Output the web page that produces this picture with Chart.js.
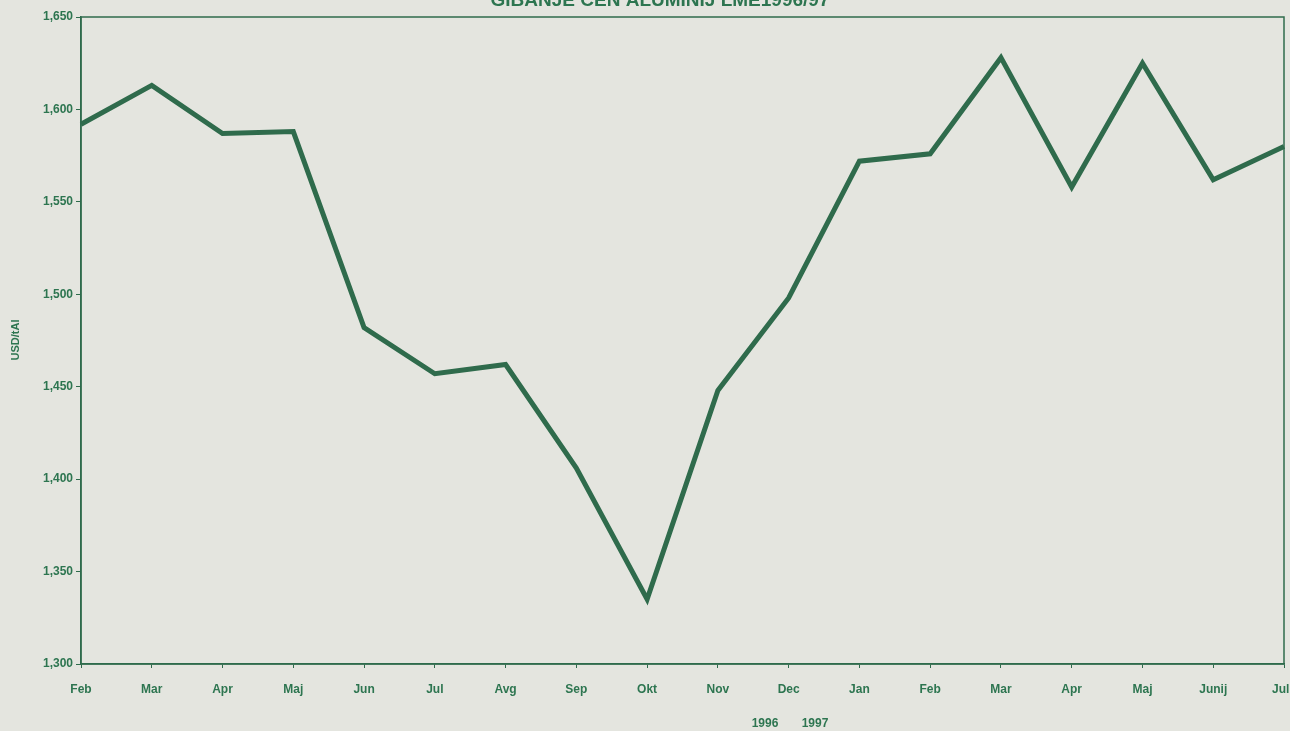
<!DOCTYPE html>
<html>
<head>
<meta charset="utf-8">
<script src="https://cdn.jsdelivr.net/npm/chart.js@4/dist/chart.umd.min.js"></script>
<style>
  html, body { margin: 0; padding: 0; background: #e4e5df; }
  #wrap { width: 1290px; height: 731px; }
</style>
</head>
<body>
<div id="wrap"><canvas id="myChart"></canvas></div>
<script>
// data block
const months = ['Feb', 'Mar', 'Apr', 'Maj', 'Jun', 'Jul', 'Avg', 'Sep', 'Okt', 'Nov', 'Dec',
                'Jan', 'Feb', 'Mar', 'Apr', 'Maj', 'Junij', 'Julij'];
const prices = [1592, 1613, 1587, 1588, 1482, 1457, 1462, 1406, 1335, 1448, 1498,
                1572, 1576, 1628, 1558, 1625, 1562, 1580];
const yearLabels = ['1996', '1997'];

const green = '#2f6b4c';
const textGreen = '#2d7550';

// extra texts: title, y label, years
const extras = {
  id: 'extras',
  afterDraw(chart) {
    const {ctx, chartArea: {left, right, top, bottom}, scales: {x}} = chart;
    ctx.save();
    // frame
    ctx.strokeStyle = green;
    ctx.lineWidth = 1.5;
    ctx.strokeRect(left, top, right - left, bottom - top);
    ctx.fillStyle = textGreen;
    ctx.font = 'bold 19px "Liberation Sans", Arial';
    ctx.textAlign = 'center';
    ctx.fillText('GIBANJE CEN ALUMINIJ LME1996/97', 660, 6);
    ctx.font = 'bold 11px "Liberation Sans", Arial';
    ctx.save();
    ctx.translate(19, 340);
    ctx.rotate(-Math.PI / 2);
    ctx.fillText('USD/tAl', 0, 0);
    ctx.restore();
    ctx.font = 'bold 12px "Liberation Sans", Arial';
    const mid = (x.getPixelForValue(10) + x.getPixelForValue(11)) / 2;
    ctx.fillText(yearLabels[0], mid - 59, 727);
    ctx.fillText(yearLabels[1], mid - 9, 727);
    ctx.restore();
  }
};

const config = {
  type: 'line',
  data: {
    labels: months,
    datasets: [{
      label: 'USD/tAl',
      data: prices,
      borderColor: green,
      borderWidth: 5,
      pointRadius: 0,
      tension: 0,
      borderJoinStyle: 'miter'
    }]
  },
  options: {
    responsive: true,
    maintainAspectRatio: false,
    animation: false,
    layout: { padding: { top: 17, right: 6, left: 0, bottom: 0 } },
    plugins: {
      legend: { display: false },
      tooltip: { enabled: false }
    },
    scales: {
      x: {
        offset: false,
        afterFit(scale) {
          scale.height = 67;
          scale.paddingLeft = 0;
          scale.paddingRight = 0;
        },
        grid: { drawOnChartArea: false, drawTicks: true, tickLength: 4, color: green },
        border: { color: green, width: 1.5 },
        ticks: {
          color: textGreen,
          font: { family: '"Liberation Sans", Arial', size: 12, weight: 'bold' },
          padding: 14,
          maxRotation: 0,
          autoSkip: false
        }
      },
      y: {
        min: 1300,
        max: 1650,
        afterFit(scale) { scale.width = 81; },
        grid: { drawOnChartArea: false, drawTicks: true, tickLength: 5, color: green },
        border: { color: green, width: 1.5 },
        ticks: {
          stepSize: 50,
          color: textGreen,
          font: { family: '"Liberation Sans", Arial', size: 12, weight: 'bold' },
          padding: 3
        }
      }
    }
  },
  plugins: [extras]
};

const myChart = new Chart(document.getElementById('myChart'), config);
</script>
</body>
</html>
